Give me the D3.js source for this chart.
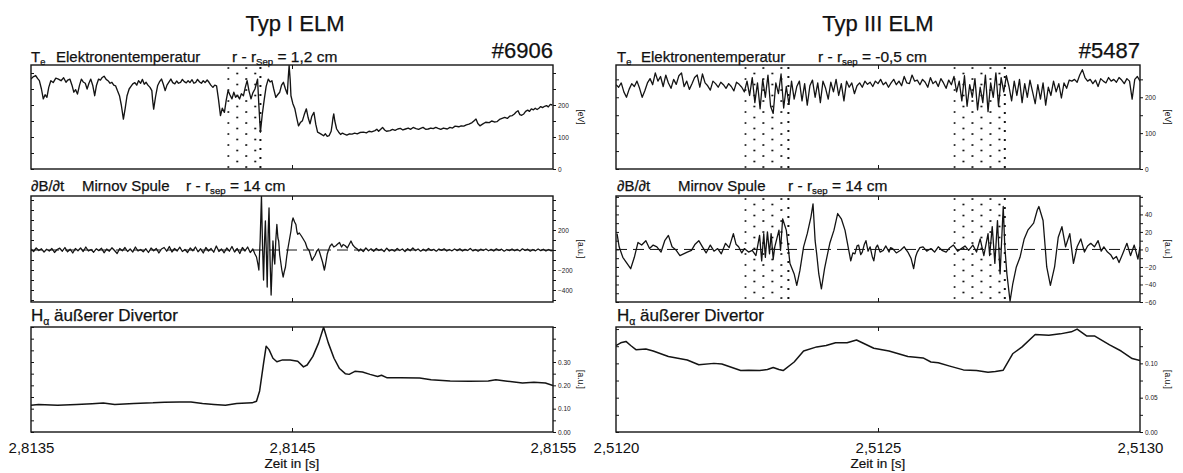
<!DOCTYPE html>
<html><head><meta charset="utf-8">
<script src="https://cdn.jsdelivr.net/npm/d3@7"></script>
<style>
body{margin:0;background:#fff}
svg{display:block}
text{font-family:"Liberation Sans",Arial,Helvetica,sans-serif;fill:#111}
</style>
</head><body>
<svg id="c" width="1183" height="473"></svg>
<script>
// ---------- DATA ----------
const leftStart = 2.8135;   // s
const leftSpan = 0.002;     // s
const rightStart = 2.5120;  // s
const rightSpan = 0.001;    // s
const leftTickLabels = ["2,8135", "2,8145", "2,8155"];
const rightTickLabels = ["2,5120", "2,5125", "2,5130"];
const shotLeft = "#6906", shotRight = "#5487";
const titleLeft = "Typ I ELM", titleRight = "Typ III ELM";

// ELM intervals (µs after panel start) marked by dotted areas
const elmLeftUs = [[752, 879]];
const elmRightUs = [[245, 329], [644, 742]];

// T_e, shot 6906 : [µs after 2.8135 s, eV]
const teLeft = [[0,281],[8,288],[18,292],[25,283],[32,276],[40,250],[47,219],[54,232],[61,224],[68,255],[76,276],[85,270],[95,284],[105,281],[115,276],[125,285],[134,271],[141,278],[149,281],[157,262],[164,240],[171,248],[178,234],[186,262],[193,281],[200,272],[208,268],[215,250],[222,268],[229,281],[237,260],[244,229],[251,262],[259,281],[266,278],[273,286],[280,290],[288,280],[295,276],[303,268],[310,271],[317,262],[324,260],[331,245],[339,229],[346,200],[354,156],[361,190],[368,229],[376,250],[383,258],[390,266],[398,270],[405,262],[412,276],[420,268],[427,280],[434,265],[441,271],[448,262],[456,255],[463,245],[466,215],[470,187],[477,225],[485,260],[492,272],[500,281],[507,265],[514,245],[521,262],[529,272],[536,281],[543,270],[551,266],[558,275],[565,268],[573,271],[580,280],[587,273],[595,269],[602,276],[609,270],[617,279],[624,268],[631,271],[638,280],[646,272],[653,268],[660,276],[667,270],[675,278],[682,271],[689,262],[697,255],[704,262],[711,260],[718,220],[726,167],[733,190],[741,177],[748,215],[755,245],[762,232],[770,219],[777,240],[784,224],[791,230],[799,219],[806,235],[814,229],[821,255],[828,276],[835,245],[843,219],[850,238],[858,250],[863,265],[868,281],[873,200],[879,115],[886,170],[894,219],[901,258],[909,281],[916,272],[923,276],[930,250],[938,224],[945,232],[953,240],[960,262],[967,271],[975,250],[982,234],[986,290],[989,323],[993,280],[996,229],[1003,205],[1011,188],[1018,160],[1025,135],[1032,145],[1040,151],[1047,170],[1055,188],[1062,160],[1069,141],[1076,165],[1084,177],[1091,140],[1098,115],[1105,112],[1113,108],[1121,104],[1128,110],[1135,102],[1142,104],[1150,118],[1154,140],[1157,160],[1160,172],[1164,150],[1171,125],[1179,115],[1186,108],[1193,112],[1201,109],[1210,106],[1220,110],[1230,109],[1240,112],[1250,110],[1260,114],[1274,115],[1285,113],[1295,118],[1305,116],[1318,120],[1325,124],[1332,118],[1347,130],[1355,122],[1362,118],[1376,120],[1385,124],[1395,121],[1405,125],[1415,127],[1425,122],[1435,125],[1445,128],[1455,124],[1464,130],[1475,126],[1485,124],[1493,127],[1502,130],[1512,124],[1522,125],[1532,128],[1541,126],[1551,130],[1560,127],[1570,124],[1580,128],[1595,125],[1605,130],[1615,128],[1625,134],[1639,132],[1648,135],[1658,134],[1668,138],[1678,140],[1690,145],[1698,151],[1705,156],[1712,142],[1720,135],[1730,140],[1742,146],[1756,145],[1765,150],[1775,147],[1785,148],[1795,155],[1805,158],[1815,161],[1825,158],[1834,165],[1844,167],[1852,172],[1859,178],[1866,182],[1873,170],[1880,168],[1888,172],[1895,180],[1903,184],[1910,180],[1917,188],[1925,185],[1932,190],[1939,186],[1946,190],[1953,195],[1960,192],[1968,196],[1975,198],[1982,194],[1990,202],[1997,200]];

// dB/dt, shot 6906 : [µs, a.u.]
const dbLeft = [[0,10],[10,-15],[20,20],[30,-5],[40,12],[50,-20],[60,8],[70,-10],[80,15],[90,-25],[100,5],[110,18],[120,-12],[130,25],[140,-18],[150,8],[160,-30],[170,15],[180,-8],[190,20],[200,-15],[210,30],[220,-10],[230,5],[240,-22],[250,12],[260,-6],[270,18],[280,-28],[290,10],[300,-12],[310,22],[320,-5],[330,-35],[340,15],[350,-8],[360,25],[370,-15],[380,10],[390,-20],[400,30],[410,-10],[420,5],[430,-18],[440,12],[450,-25],[460,20],[470,-8],[480,15],[490,-30],[500,10],[510,25],[520,-12],[530,35],[540,-20],[550,15],[560,-10],[570,28],[580,-15],[590,5],[600,-25],[610,20],[620,-8],[630,30],[640,-18],[650,12],[660,-30],[670,25],[680,-10],[690,15],[700,-22],[710,40],[720,-15],[730,10],[740,-28],[750,20],[760,-12],[770,35],[780,-20],[790,15],[800,-35],[810,25],[820,-10],[830,30],[840,-25],[850,10],[858,-40],[864,-70],[870,-150],[873,-200],[878,100],[883,540],[887,50],[891,-300],[895,100],[898,290],[902,-50],[905,-370],[909,200],[912,420],[916,-100],[920,-450],[924,-150],[927,90],[931,-80],[934,-140],[938,100],[942,255],[946,120],[949,90],[953,-50],[956,-105],[961,-200],[966,-270],[970,-220],[975,-170],[980,-60],[985,25],[990,100],[996,190],[1000,280],[1004,320],[1010,280],[1015,255],[1019,180],[1022,157],[1028,170],[1036,140],[1043,110],[1051,75],[1058,20],[1066,-7],[1072,-60],[1077,-105],[1082,-80],[1088,-55],[1095,-10],[1102,10],[1110,-60],[1117,-120],[1124,-200],[1128,-150],[1131,-105],[1135,-40],[1139,-7],[1146,40],[1153,60],[1160,30],[1168,43],[1175,60],[1182,75],[1190,30],[1196,55],[1204,43],[1212,20],[1220,60],[1226,90],[1233,50],[1241,26],[1250,10],[1256,-10],[1263,10],[1273,-15],[1283,20],[1293,-8],[1303,12],[1313,-12],[1323,15],[1333,-5],[1343,8],[1353,-15],[1363,18],[1373,-10],[1383,5],[1393,-12],[1403,15],[1413,-5],[1423,10],[1433,-15],[1443,12],[1453,-8],[1463,20],[1473,-6],[1483,10],[1493,-12],[1503,8],[1513,-10],[1523,15],[1533,-5],[1543,6],[1553,-12],[1563,10],[1573,-4],[1583,12],[1593,-10],[1603,5],[1613,-8],[1623,10],[1633,-6],[1643,12],[1653,-10],[1663,6],[1673,-5],[1683,15],[1693,-8],[1703,5],[1713,-12],[1723,8],[1733,-5],[1743,10],[1753,-8],[1763,6],[1773,-10],[1783,12],[1793,-5],[1803,8],[1813,-12],[1823,5],[1833,-6],[1843,10],[1853,-8],[1863,6],[1873,-10],[1883,12],[1893,-5],[1903,8],[1913,-12],[1923,5],[1933,-8],[1943,10],[1953,-6],[1963,8],[1973,-10],[1983,5],[1993,-8],[2000,0]];

// H-alpha, shot 6906 : [µs, a.u.]
const haLeft = [[0,0.115],[29,0.118],[102,0.115],[175,0.118],[234,0.121],[277,0.124],[321,0.118],[394,0.122],[467,0.125],[511,0.128],[569,0.129],[613,0.129],[657,0.122],[701,0.118],[745,0.115],[788,0.122],[847,0.125],[864,0.132],[876,0.176],[891,0.294],[901,0.368],[912,0.353],[927,0.316],[942,0.301],[964,0.309],[993,0.309],[1022,0.303],[1044,0.279],[1058,0.287],[1080,0.324],[1102,0.382],[1121,0.449],[1139,0.382],[1161,0.316],[1182,0.272],[1204,0.25],[1219,0.247],[1241,0.26],[1270,0.257],[1299,0.247],[1328,0.238],[1343,0.243],[1365,0.232],[1416,0.232],[1489,0.231],[1533,0.224],[1606,0.219],[1679,0.218],[1752,0.219],[1781,0.224],[1825,0.218],[1883,0.21],[1927,0.213],[1971,0.21],[2000,0.199]];

// T_e, shot 5487 : one reading every 5 µs after 2.5120 s, eV
const teRightStepUs = 5;
const teRight = [235,228,240,215,200,222,238,230,245,225,200,218,240,252,235,268,245,258,230,262,240,225,250,236,260,268,230,245,222,238,255,262,228,265,240,232,220,245,238,228,242,235,225,238,230,218,242,236,228,215,
245,205,255,185,240,168,250,200,262,175,155,240,210,265,170,230,180,
245,195,230,245,190,238,178,232,248,200,240,185,245,225,195,242,215,250,205,238,190,245,228,240,210,
232,240,228,245,236,242,230,245,238,250,235,242,228,240,250,235,245,232,258,240,238,262,245,248,235,250,242,228,255,238,245,230,252,240,225,248,235,
258,215,245,190,260,175,235,200,252,165,228,185,262,160,240,200,268,175,255,215,
260,230,190,245,205,250,185,238,200,248,215,182,235,195,240,178,228,205,245,215,238,198,240,225,248,
245,250,242,262,277,255,245,250,238,248,230,252,245,240,255,245,250,242,255,248,238,252,245,195,250,258,245];

// dB/dt, shot 5487 : [µs, a.u.]
const dbRight = [[2,18],[6,3],[13,-9],[20,-15],[28,-22],[35,-9],[42,8],[49,5],[57,10],[64,1],[71,5],[78,3],[86,-3],[93,10],[100,16],[107,3],[115,-1],[122,-7],[129,-5],[136,-3],[144,-1],[151,6],[158,10],[165,3],[172,-4],[180,5],[187,-2],[194,1],[201,-5],[209,7],[216,2],[224,18],[229,6],[234,3],[240,-4],[245,1],[253,-3],[260,-1],[267,-7],[274,16],[278,-13],[282,18],[285,-9],[289,20],[293,-5],[296,18],[300,-11],[303,3],[311,22],[314,-1],[318,35],[325,22],[332,-16],[340,-28],[345,-41],[351,-24],[358,3],[365,18],[372,37],[376,52],[380,10],[383,-5],[387,-28],[392,-45],[398,-22],[401,-13],[408,7],[416,22],[423,41],[430,35],[437,22],[443,3],[448,-13],[452,-4],[456,-5],[460,4],[463,5],[467,-6],[470,-3],[474,6],[477,10],[481,-2],[485,3],[489,-8],[492,-13],[496,2],[499,5],[504,-3],[510,-1],[515,4],[521,-3],[524,2],[528,1],[535,-4],[543,-1],[550,3],[557,-3],[563,-10],[568,-22],[572,-8],[575,-3],[580,2],[586,3],[593,-2],[601,1],[608,-3],[615,3],[622,-1],[630,-3],[637,2],[644,5],[652,-2],[659,1],[666,4],[673,-1],[681,5],[688,-3],[695,12],[702,-7],[710,18],[713,-7],[718,26],[723,-16],[728,33],[733,-28],[739,49],[742,3],[746,-28],[752,-59],[757,-40],[764,-20],[771,-9],[779,12],[786,22],[797,30],[804,45],[807,49],[815,33],[819,3],[822,-20],[829,-41],[837,-20],[844,14],[851,26],[858,3],[866,18],[873,-16],[880,3],[887,12],[894,-3],[900,4],[906,7],[913,3],[920,10],[926,-2],[931,3],[938,-3],[944,-6],[949,-11],[955,-8],[960,-15],[967,-5],[975,7],[982,-7],[989,5],[996,-11],[1000,3]];

// H-alpha, shot 5487 : [µs, a.u.]
const haRight = [[0,0.126],[9,0.130],[19,0.132],[28,0.126],[38,0.120],[57,0.121],[71,0.118],[100,0.110],[136,0.105],[158,0.098],[187,0.100],[202,0.099],[238,0.0895],[253,0.090],[274,0.0895],[289,0.091],[300,0.094],[311,0.091],[319,0.0895],[340,0.102],[358,0.118],[383,0.124],[401,0.126],[419,0.130],[441,0.130],[459,0.134],[470,0.130],[492,0.122],[521,0.118],[557,0.110],[586,0.108],[601,0.102],[615,0.101],[637,0.096],[663,0.0905],[688,0.0895],[710,0.087],[724,0.088],[739,0.090],[757,0.114],[775,0.124],[800,0.142],[826,0.141],[848,0.143],[869,0.146],[880,0.150],[898,0.140],[913,0.140],[942,0.127],[964,0.118],[985,0.107],[1000,0.104]];

// right-hand tick labels of each panel
const teLeftTicks = [0, 100, 200];
const dbLeftTicks = [200, -200, -400];
const haLeftTicks = [0, 0.1, 0.2, 0.3];
const teRightTicks = [0, 100, 200];
const dbRightTicks = [40, 20, 0, -20, -40, -60];
const haRightTicks = [0, 0.05, 0.1];

// ---------- DRAWING ----------
const svg = d3.select("#c");
const ink = "#141414";

const xL = d3.scaleLinear().domain([leftStart, leftStart + leftSpan]).range([31, 553]);
const xR = d3.scaleLinear().domain([rightStart, rightStart + rightSpan]).range([616, 1140]);
const rows = [[65, 169], [196, 302], [327, 432]];

const toSec = (start, arr) => arr.map(([u, v]) => [start + u * 1e-6, v]);

const panels = [
  {x: xL, row: 0, dom: [0, 325], data: toSec(leftStart, teLeft), minor: d3.range(0, 301, 50), labels: teLeftTicks, fmt: d3.format("d"), unit: "[eV]", elm: elmLeftUs, start: leftStart, dash: false, lw: 1.35},
  {x: xL, row: 1, dom: [-520, 540], data: toSec(leftStart, dbLeft), minor: d3.range(-500, 501, 100), labels: dbLeftTicks, fmt: d3.format("d"), unit: "[a.u.]", elm: [], start: leftStart, dash: true, lw: 1.3},
  {x: xL, row: 2, dom: [0, 0.45], data: toSec(leftStart, haLeft), minor: d3.range(0, 0.451, 0.05), labels: haLeftTicks, fmt: d3.format(".2f"), unit: "[a.u.]", elm: [], start: leftStart, dash: false, lw: 1.5},
  {x: xR, row: 0, dom: [0, 290], data: teRight.map((v, i) => [rightStart + i * teRightStepUs * 1e-6, v]), minor: d3.range(0, 251, 50), labels: teRightTicks, fmt: d3.format("d"), unit: "[eV]", elm: elmRightUs, start: rightStart, dash: false, lw: 1.3},
  {x: xR, row: 1, dom: [-60, 61], data: toSec(rightStart, dbRight), minor: d3.range(-60, 61, 10), labels: dbRightTicks, fmt: d3.format("d"), unit: "[a.u.]", elm: elmRightUs, start: rightStart, dash: true, lw: 1.3},
  {x: xR, row: 2, dom: [0, 0.153], data: toSec(rightStart, haRight), minor: d3.range(0, 0.151, 0.025), labels: haRightTicks, fmt: d3.format(".2f"), unit: "[a.u.]", elm: [], start: rightStart, dash: false, lw: 1.5}
];

const defs = svg.append("defs");

panels.forEach((p, pi) => {
  const [y0, y1] = rows[p.row];
  const [xa, xb] = p.x.range();
  const y = d3.scaleLinear().domain(p.dom).range([y1, y0]);
  const g = svg.append("g");

  defs.append("clipPath").attr("id", "clip" + pi)
    .append("rect").attr("x", xa).attr("y", y0).attr("width", xb - xa).attr("height", y1 - y0);

  // dotted ELM intervals
  p.elm.forEach(([ua, ub], ei) => {
    const xs = p.x(p.start + ua * 1e-6), xe = p.x(p.start + ub * 1e-6);
    const pid = "dots" + pi + "_" + ei;
    const pat = defs.append("pattern").attr("id", pid).attr("patternUnits", "userSpaceOnUse")
      .attr("x", xs).attr("y", y0).attr("width", 18).attr("height", 11);
    pat.append("circle").attr("cx", 1).attr("cy", 3).attr("r", 1.1).attr("fill", ink);
    pat.append("circle").attr("cx", 10).attr("cy", 8.5).attr("r", 1.1).attr("fill", ink);
    g.append("rect").attr("x", xs).attr("y", y0).attr("width", xe - xs).attr("height", y1 - y0)
      .attr("fill", `url(#${pid})`);
    g.append("line").attr("x1", xe).attr("x2", xe).attr("y1", y0 + 2).attr("y2", y1)
      .attr("stroke", ink).attr("stroke-width", 2).attr("stroke-dasharray", "2,7");
  });

  // zero line (dashed)
  if (p.dash) {
    g.append("line").attr("x1", xa).attr("x2", xb).attr("y1", y(0)).attr("y2", y(0))
      .attr("stroke", ink).attr("stroke-width", 1).attr("stroke-dasharray", "11,6");
  }

  // trace
  g.append("path").datum(p.data)
    .attr("clip-path", `url(#clip${pi})`)
    .attr("fill", "none").attr("stroke", ink).attr("stroke-width", p.lw).attr("stroke-linejoin", "round")
    .attr("d", d3.line().x(d => p.x(d[0])).y(d => y(d[1])));

  // frame
  g.append("rect").attr("x", xa).attr("y", y0).attr("width", xb - xa).attr("height", y1 - y0)
    .attr("fill", "none").attr("stroke", ink).attr("stroke-width", 1.4);

  // right axis with labels
  const lab = new Set(p.labels.map(v => +v.toFixed(4)));
  const ra = g.append("g").attr("transform", `translate(${xb},0)`)
    .call(d3.axisRight(y).tickValues(p.minor).tickSize(3).tickPadding(2)
      .tickFormat(v => lab.has(+v.toFixed(4)) ? p.fmt(v) : ""));
  ra.select(".domain").remove();
  ra.selectAll("line").attr("stroke", ink);
  ra.selectAll("text").attr("font-size", 6.5).style("fill", "#222");

  // inner ticks on left edge
  const la = g.append("g").attr("transform", `translate(${xa},0)`)
    .call(d3.axisRight(y).tickValues(p.minor).tickSize(3).tickFormat(""));
  la.select(".domain").remove();
  la.selectAll("line").attr("stroke", ink);

  // middle time ticks at top and bottom (inward)
  const mid = [p.x.domain()[0] + (p.x.domain()[1] - p.x.domain()[0]) / 2];
  const ta = g.append("g").attr("transform", `translate(0,${y0})`)
    .call(d3.axisBottom(p.x).tickValues(mid).tickSize(4).tickFormat(""));
  ta.select(".domain").remove();
  ta.selectAll("line").attr("stroke", ink);
  const ba = g.append("g").attr("transform", `translate(0,${y1})`)
    .call(d3.axisTop(p.x).tickValues(mid).tickSize(4).tickFormat(""));
  ba.select(".domain").remove();
  ba.selectAll("line").attr("stroke", ink);

  // unit label
  g.append("text").attr("transform", `translate(${xb + 25},${(y0 + y1) / 2}) rotate(90)`)
    .attr("text-anchor", "middle").attr("font-size", 8.5).text(p.unit);
});

// bottom time axes
[[xL, leftTickLabels], [xR, rightTickLabels]].forEach(([x, labels]) => {
  const d = x.domain();
  const vals = [d[0], (d[0] + d[1]) / 2, d[1]];
  const ax = svg.append("g").attr("transform", `translate(0,${rows[2][1]})`)
    .call(d3.axisBottom(x).tickValues(vals).tickSize(0).tickPadding(10).tickFormat((v, i) => labels[i]));
  ax.select(".domain").remove();
  ax.selectAll("text").attr("font-size", 15).style("fill", "#111");
  svg.append("text").attr("x", x(vals[1])).attr("y", 468).attr("text-anchor", "middle")
    .attr("font-size", 13.5).attr("stroke", "#111").attr("stroke-width", 0.2).text("Zeit in [s]");
});

// titles
function addText(x, y, size, parts, anchor) {
  const t = svg.append("text").attr("x", x).attr("y", y).attr("font-size", size).attr("text-anchor", anchor || "start")
    .attr("stroke", "#111").attr("stroke-width", 0.25);
  parts.forEach(pt => {
    const s = t.append("tspan").text(pt.t);
    if (pt.sub) s.attr("font-size", size * 0.62).attr("dy", size * 0.22);
    if (pt.back) s.attr("dy", -size * 0.22);
  });
  return t;
}
addText(295, 31, 22, [{t: titleLeft}], "middle");
addText(878, 31, 22, [{t: titleRight}], "middle");
addText(553, 58, 22, [{t: shotLeft}], "end");
addText(1140, 58, 22, [{t: shotRight}], "end");

// row titles, left column
addText(31, 62, 15, [{t: "T"}, {t: "e", sub: true}]);
addText(56, 62, 15, [{t: "Elektronentemperatur"}]);
addText(232, 62, 15.5, [{t: "r  -  r"}, {t: "Sep", sub: true}, {t: " =  1,2 cm", back: true}]);
addText(31, 191, 15, [{t: "∂B/∂t"}]);
addText(82, 191, 15, [{t: "Mirnov Spule"}]);
addText(186, 191, 15.5, [{t: "r  -  r"}, {t: "sep", sub: true}, {t: " =  14 cm", back: true}]);
addText(31, 321, 17, [{t: "H"}, {t: "α", sub: true}, {t: " äußerer Divertor", back: true}]);
// row titles, right column
addText(617, 62, 15, [{t: "T"}, {t: "e", sub: true}]);
addText(641, 62, 15, [{t: "Elektronentemperatur"}]);
addText(818, 62, 15.5, [{t: "r  -  r"}, {t: "sep", sub: true}, {t: " =  -0,5 cm", back: true}]);
addText(617, 191, 15, [{t: "∂B/∂t"}]);
addText(678, 191, 15, [{t: "Mirnov Spule"}]);
addText(788, 191, 15.5, [{t: "r  -  r"}, {t: "sep", sub: true}, {t: " =  14 cm", back: true}]);
addText(617, 321, 17, [{t: "H"}, {t: "α", sub: true}, {t: " äußerer Divertor", back: true}]);
</script>
</body></html>
